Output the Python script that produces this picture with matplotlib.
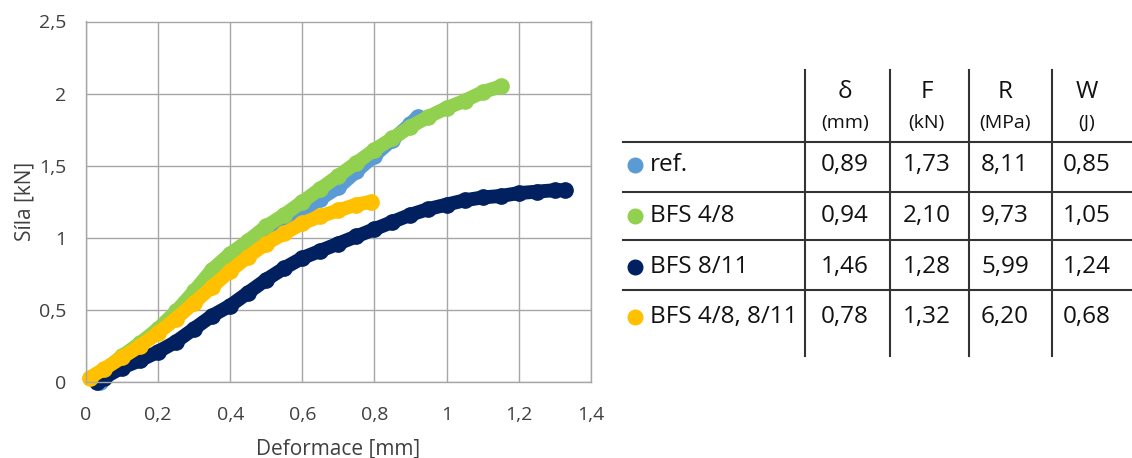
import matplotlib.pyplot as plt

# curves: deformation [mm] -> force [kN]
ref_x = [0.04, 0.1, 0.15, 0.2, 0.25, 0.3, 0.35, 0.4, 0.45, 0.5, 0.55, 0.6, 0.65, 0.7, 0.75, 0.8, 0.85, 0.9, 0.92]
ref_y = [0.0, 0.16, 0.26, 0.36, 0.47, 0.60, 0.70, 0.82, 0.93, 1.02, 1.11, 1.19, 1.27, 1.35, 1.46, 1.57, 1.68, 1.79, 1.84]

bfs48_x = [0.02, 0.05, 0.1, 0.15, 0.2, 0.25, 0.3, 0.35, 0.4, 0.45, 0.5, 0.55, 0.6, 0.65, 0.7, 0.75, 0.8, 0.85,
           0.9, 0.95, 1.0, 1.05, 1.1, 1.15]
bfs48_y = [0.03, 0.08, 0.18, 0.27, 0.37, 0.49, 0.63, 0.78, 0.89, 0.98, 1.08, 1.16, 1.25, 1.34, 1.43, 1.52, 1.61, 1.69,
           1.77, 1.84, 1.90, 1.95, 2.01, 2.05]

bfs811_x = [0.03, 0.05, 0.1, 0.15, 0.2, 0.25, 0.3, 0.35, 0.4, 0.45, 0.5, 0.55, 0.6, 0.65, 0.7, 0.75, 0.8, 0.85,
            0.9, 0.95, 1.0, 1.05, 1.1, 1.15, 1.2, 1.25, 1.3, 1.33]
bfs811_y = [0.0, 0.03, 0.10, 0.15, 0.21, 0.28, 0.37, 0.46, 0.53, 0.62, 0.71, 0.79, 0.86, 0.91, 0.96, 1.01, 1.06, 1.11,
            1.16, 1.20, 1.23, 1.26, 1.28, 1.29, 1.31, 1.32, 1.33, 1.33]

mix_x = [0.01, 0.05, 0.1, 0.15, 0.2, 0.25, 0.3, 0.35, 0.4, 0.45, 0.5, 0.55, 0.6, 0.65, 0.7, 0.75, 0.79]
mix_y = [0.03, 0.09, 0.17, 0.25, 0.34, 0.44, 0.55, 0.66, 0.77, 0.87, 0.96, 1.03, 1.10, 1.15, 1.19, 1.23, 1.25]

xticks = [0, 0.2, 0.4, 0.6, 0.8, 1.0, 1.2, 1.4]
xtick_labels = ["0", "0,2", "0,4", "0,6", "0,8", "1", "1,2", "1,4"]
yticks = [0, 0.5, 1.0, 1.5, 2.0, 2.5]
ytick_labels = ["0", "0,5", "1", "1,5", "2", "2,5"]

# table
series_names = ["ref.", "BFS 4/8", "BFS 8/11", "BFS 4/8, 8/11"]
series_colors = ["#5B9BD5", "#92D050", "#002060", "#FFC000"]
col_symbols = ["δ", "F", "R", "W"]
col_units = ["(mm)", "(kN)", "(MPa)", "(J)"]
delta_mm = ["0,89", "0,94", "1,46", "0,78"]
force_kn = ["1,73", "2,10", "1,28", "1,32"]
strength_mpa = ["8,11", "9,73", "5,99", "6,20"]
work_j = ["0,85", "1,05", "1,24", "0,68"]

plt.rcParams['font.family'] = ['Open Sans', 'DejaVu Sans']
W, H = 1132, 458
fig = plt.figure(figsize=(W / 100, H / 100), dpi=100)
ax = fig.add_axes([86 / W, 1 - 382 / H, (590.7 - 86) / W, (382 - 21.5) / H])

curves = [(ref_x, ref_y), (bfs48_x, bfs48_y), (bfs811_x, bfs811_y), (mix_x, mix_y)]
for (xs, ys), c in zip(curves, series_colors):
    ax.plot(xs, ys, color=c, lw=10, solid_capstyle="round", solid_joinstyle="round",
            marker="o", ms=11, mec=c, mfc=c, clip_on=False)

ax.set_xlim(0, 1.4)
ax.set_ylim(0, 2.5)
ax.set_xticks(xticks)
ax.set_xticklabels(xtick_labels)
ax.set_yticks(yticks)
ax.set_yticklabels(ytick_labels)
ax.tick_params(length=0, labelsize=14, colors="#404040")
ax.tick_params(axis="x", pad=17)
ax.tick_params(axis="y", pad=14)
ax.grid(True, color="#A6A6A6", lw=1)
ax.set_axisbelow(True)
for s in ax.spines.values():
    s.set_color("#A6A6A6")
    s.set_linewidth(1)
ax.set_xlabel("Deformace [mm]", fontsize=15, color="#404040", labelpad=11)
ax.set_ylabel("Síla [kN]", fontsize=15, color="#404040", labelpad=3)

# table drawn in pixel coords on an overlay axes
tx = fig.add_axes([0, 0, 1, 1])
tx.set_xlim(0, W)
tx.set_ylim(H, 0)
tx.set_axis_off()

line_c = "#333333"
for x in [805, 890, 968.7, 1052]:
    tx.plot([x, x], [70, 356], color=line_c, lw=1.5)
for y in [142.3, 192.3, 240, 290]:
    tx.plot([622.7, 1132], [y, y], color=line_c, lw=1.5)

col_x = [845, 926.7, 1005, 1087]
for cx, sym, unit in zip(col_x, col_symbols, col_units):
    tx.text(cx, 92, sym, ha="center", va="center", fontsize=17.5, color="#111111")
    tx.text(cx, 123, unit, ha="center", va="center", fontsize=14, color="#111111")

row_y = [165, 215.7, 266.7, 317.3]
columns = [delta_mm, force_kn, strength_mpa, work_j]
for i, (ry, name, c) in enumerate(zip(row_y, series_names, series_colors)):
    tx.plot(635, ry, "o", ms=10.5, color=c)
    tx.text(650, ry, name, ha="left", va="center", fontsize=17.5, color="#111111")
    for cx, col in zip(col_x, columns):
        tx.text(cx, ry, col[i], ha="center", va="center", fontsize=17.5, color="#111111")

fig.savefig("out.png", dpi=100)
